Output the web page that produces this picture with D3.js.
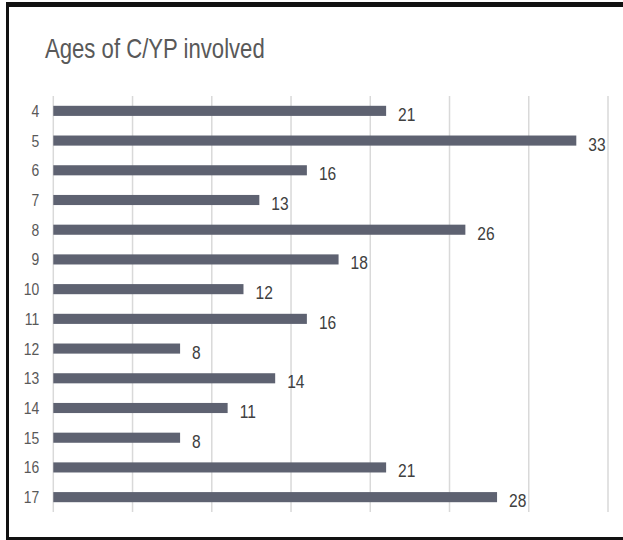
<!DOCTYPE html>
<html>
<head>
<meta charset="utf-8">
<script src="https://cdn.jsdelivr.net/npm/d3@7"></script>
<style>
  body { margin: 0; background: #fff; }
  text { font-family: "Liberation Sans", Arial, sans-serif; }
</style>
</head>
<body>
<svg id="chart" width="623" height="540"></svg>
<script>
const ages = ["4","5","6","7","8","9","10","11","12","13","14","15","16","17"];
const counts = [21, 33, 16, 13, 26, 18, 12, 16, 8, 14, 11, 8, 21, 28];
const xTicks = [0, 5, 10, 15, 20, 25, 30, 35];
const title = "Ages of C/YP involved";

const data = ages.map((a, i) => ({ age: a, value: counts[i] }));
const narrow = 0.82; // the reference font is a condensed one

const svg = d3.select("#chart");

// frame (right edge runs off the picture)
svg.append("rect")
  .attr("x", 7.5).attr("y", 4.5)
  .attr("width", 640).attr("height", 534)
  .attr("fill", "none")
  .attr("stroke", "#111")
  .attr("stroke-width", 3);
svg.append("line")
  .attr("x1", 6).attr("x2", 623).attr("y1", 4.5).attr("y2", 4.5)
  .attr("stroke", "#111").attr("stroke-width", 5);

const xScale = d3.scaleLinear()
  .domain([0, 35])
  .range([53.3, 608]);

const yScale = d3.scaleBand()
  .domain(ages)
  .range([96, 512])
  .paddingInner(0.66)
  .paddingOuter(0.33);

// gridlines
svg.append("g")
  .selectAll("line")
  .data(xTicks)
  .enter().append("line")
    .attr("x1", d => xScale(d))
    .attr("x2", d => xScale(d))
    .attr("y1", 96)
    .attr("y2", 512)
    .attr("stroke", "#d9d9d9")
    .attr("stroke-width", 1.5);

// bars
svg.append("g")
  .selectAll("rect")
  .data(data)
  .enter().append("rect")
    .attr("x", xScale(0))
    .attr("y", d => yScale(d.age))
    .attr("width", d => xScale(d.value) - xScale(0))
    .attr("height", yScale.bandwidth())
    .attr("fill", "#5e6271");

// value labels
svg.append("g")
  .selectAll("text")
  .data(data)
  .enter().append("text")
    .attr("transform", d => `translate(${xScale(d.value) + 12},${yScale(d.age) + yScale.bandwidth() / 2 + 10}) scale(${narrow},1)`)
    .attr("font-size", 19)
    .attr("fill", "#404040")
    .text(d => d.value);

// category labels
svg.append("g")
  .selectAll("text")
  .data(ages)
  .enter().append("text")
    .attr("transform", d => `translate(${xScale(0) - 14},${yScale(d) + yScale.bandwidth() / 2 + 6}) scale(${narrow},1)`)
    .attr("text-anchor", "end")
    .attr("font-size", 17)
    .attr("fill", "#595959")
    .text(d => d);

// title
svg.append("text")
  .attr("transform", `translate(45,58) scale(${narrow},1)`)
  .attr("font-size", 27)
  .attr("fill", "#595959")
  .text(title);
</script>
</body>
</html>
